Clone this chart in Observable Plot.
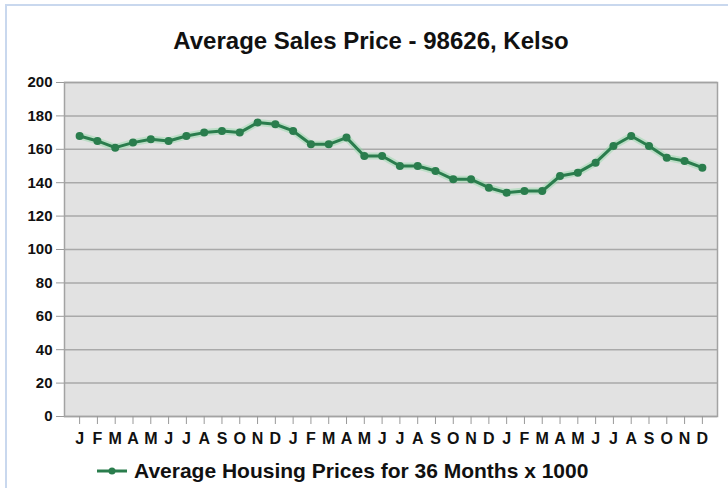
<!DOCTYPE html>
<html><head><meta charset="utf-8">
<script src="https://cdn.jsdelivr.net/npm/d3@7"></script>
<script src="https://cdn.jsdelivr.net/npm/@observablehq/plot@0.6"></script>
<style>
body{margin:0;background:#fff;}
#wrap{position:relative;width:728px;height:488px;overflow:hidden;font-family:"Liberation Sans",Arial,sans-serif;color:#111;}
#border{position:absolute;left:5px;top:4px;width:760px;height:520px;border-top:2px solid #c9d8ee;border-left:2px solid #c9d8ee;pointer-events:none;}
#title{height:62px;width:742px;box-sizing:border-box;padding-top:29px;text-align:center;font-size:24px;line-height:24px;font-weight:bold;color:#111;}
#chart svg{display:block;}
#legend{height:34px;display:flex;align-items:center;padding-left:96px;font-size:21px;font-weight:bold;color:#111;}
#legend svg{margin-right:6px;}
</style>
</head><body>
<div id="wrap">
  <div id="border"></div>
  <div id="title"></div>
  <div id="chart"></div>
  <div id="legend"></div>
</div>
<script>
const title = "Average Sales Price - 98626, Kelso";
const seriesName = "Average Housing Prices for 36 Months x 1000";
const monthLabels = ["J","F","M","A","M","J","J","A","S","O","N","D",
                     "J","F","M","A","M","J","J","A","S","O","N","D",
                     "J","F","M","A","M","J","J","A","S","O","N","D"];
const prices = [168,165,161,164,166,165,168,170,171,170,176,175,
                171,163,163,167,156,156,150,150,147,142,142,137,
                134,135,135,144,146,152,162,168,162,155,153,149];
const yTicks = [0,20,40,60,80,100,120,140,160,180,200];

const data = prices.map((v, i) => ({i, v}));
const green = "#2a7d4d";

const plot = Plot.plot({
  width: 728,
  height: 392,
  marginLeft: 64,
  marginRight: 11,
  marginTop: 20,
  marginBottom: 38,
  style: {fontFamily: '"Liberation Sans",Arial,sans-serif', fontSize: "15px", color: "#111", background: "transparent"},
  x: {type: "point", domain: d3.range(prices.length), padding: 0.85, round: false},
  y: {domain: [0, 200]},
  marks: [
    Plot.frame({fill: "#e2e2e2", stroke: null}),
    Plot.gridY(yTicks, {stroke: "#a9a9a9", strokeOpacity: 1, strokeWidth: 1.5}),
    Plot.frame({stroke: "#a3a3a3", strokeWidth: 1.5}),
    Plot.axisY(yTicks, {tickSize: 8, tickPadding: 4, label: null, stroke: "#999", fontWeight: "bold", fontSize: 15}),
    Plot.axisX({ticks: d3.range(prices.length), tickFormat: i => monthLabels[i], tickSize: 8, tickPadding: 8, label: null, stroke: "#999", fontWeight: "bold", fontSize: 16}),
    Plot.line(data, {x: "i", y: "v", stroke: "#8fd8a4", strokeWidth: 7, strokeOpacity: 0.45}),
    Plot.line(data, {x: "i", y: "v", stroke: green, strokeWidth: 3}),
    Plot.dot(data, {x: "i", y: "v", r: 4, fill: green, stroke: null})
  ]
});
document.getElementById("chart").appendChild(plot);

const leg = document.getElementById("legend");
leg.innerHTML = `<svg width="32" height="10"><line x1="1" y1="5" x2="31" y2="5" stroke="${green}" stroke-width="3"/><circle cx="16" cy="5" r="3.5" fill="${green}"/></svg><span></span>`;
leg.querySelector("span").textContent = seriesName;
document.getElementById("title").textContent = title;
</script>
</body></html>
